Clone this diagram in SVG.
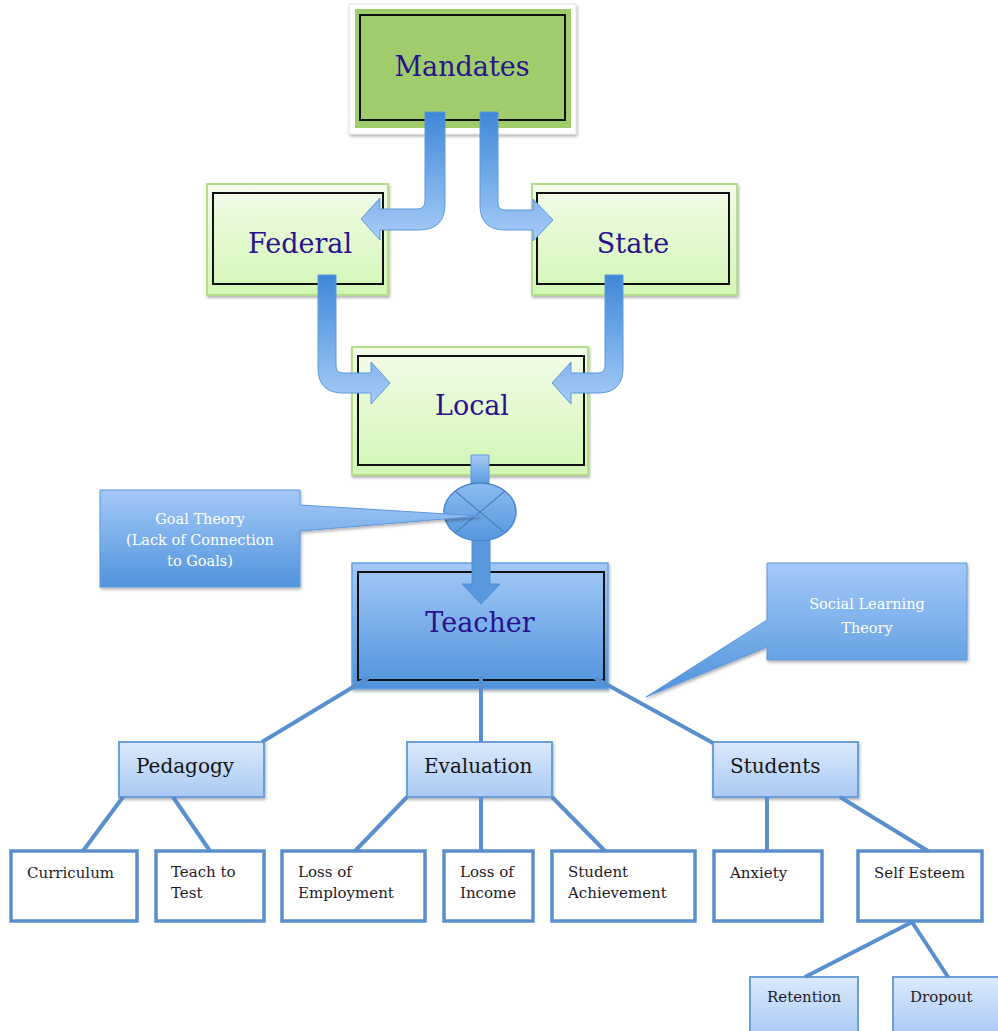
<svg xmlns="http://www.w3.org/2000/svg" width="998" height="1031" viewBox="0 0 998 1031">
<defs>
<linearGradient id="gGreen" x1="0" y1="0" x2="0" y2="1"><stop offset="0" stop-color="#f3fcea"/><stop offset="1" stop-color="#d2f6b4"/></linearGradient>
<linearGradient id="gBlue" x1="0" y1="0" x2="0" y2="1"><stop offset="0" stop-color="#a4c9f8"/><stop offset="1" stop-color="#4f93dc"/></linearGradient>
<linearGradient id="gLight" x1="0" y1="0" x2="0" y2="1"><stop offset="0" stop-color="#dbe9fc"/><stop offset="1" stop-color="#a9c9f4"/></linearGradient>
<linearGradient id="gArrow" x1="0" y1="0" x2="0" y2="1"><stop offset="0" stop-color="#3f88d8"/><stop offset="1" stop-color="#a7ccf8"/></linearGradient>
<linearGradient id="gArrowUp" x1="0" y1="0" x2="0" y2="1"><stop offset="0" stop-color="#a7ccf8"/><stop offset="1" stop-color="#4a8fdb"/></linearGradient>
<linearGradient id="gCircle" x1="0" y1="0" x2="0" y2="1"><stop offset="0" stop-color="#8dbcf0"/><stop offset="1" stop-color="#5597df"/></linearGradient>
<filter id="sh" x="-10%" y="-10%" width="120%" height="130%"><feDropShadow dx="1" dy="2" stdDeviation="1.5" flood-color="#000" flood-opacity="0.3"/></filter>
</defs>
<style>
.big{font-family:"DejaVu Serif","Liberation Serif",serif;font-size:27px;fill:#2a128e;text-anchor:middle}
.mid{font-family:"DejaVu Serif","Liberation Serif",serif;font-size:20px;fill:#151515}
.leaf{font-family:"DejaVu Serif","Liberation Serif",serif;font-size:15px;fill:#1e1a28}
.call{font-family:"DejaVu Serif","Liberation Serif",serif;font-size:14.5px;fill:#ffffff;text-anchor:middle}
.inner{fill:none;stroke:#111;stroke-width:2}
.gbox{fill:url(#gGreen);stroke:#b3df8c;stroke-width:2}
.lbox{fill:url(#gLight);stroke:#6c9fda;stroke-width:2}
.wbox{fill:#fff;stroke:#5b8fcb;stroke-width:3.5}
.ln{stroke:#5a8fcf;stroke-width:4;fill:none}
.arr{fill:url(#gArrow);stroke:#5c98dc;stroke-width:1}
</style>

<g id="mandates">
<rect x="349" y="4" width="227" height="130" fill="#fff" stroke="#e2e2e2" stroke-width="1" filter="url(#sh)"/>
<rect x="355" y="9" width="216" height="119" fill="#a1cc6b"/>
<rect x="360" y="15" width="205" height="105" class="inner"/>
<text x="462" y="76" class="big">Mandates</text>
</g>
<g id="federal">
<rect x="207" y="184" width="181" height="111" class="gbox" filter="url(#sh)"/>
<rect x="213" y="193" width="170" height="91" class="inner"/>
<text x="300" y="253" class="big">Federal</text>
</g>
<g id="state">
<rect x="532" y="184" width="205" height="111" class="gbox" filter="url(#sh)"/>
<rect x="537" y="193" width="192" height="91" class="inner"/>
<text x="633" y="253" class="big">State</text>
</g>
<g id="local">
<rect x="352" y="347" width="236" height="128" class="gbox" filter="url(#sh)"/>
<rect x="358" y="356" width="226" height="109" class="inner"/>
<text x="472" y="415" class="big">Local</text>
</g>
<g id="teacher">
<rect x="352" y="563" width="256" height="126" fill="url(#gBlue)" stroke="#6aa2e0" stroke-width="1.5" filter="url(#sh)"/>
<rect x="358" y="572" width="246" height="108" class="inner"/>
<text x="480" y="632" class="big">Teacher</text>
</g>
<g id="pedagogy">
<rect x="119" y="742" width="145" height="55" class="lbox" filter="url(#sh)"/>
<text x="136" y="773" class="mid">Pedagogy</text>
</g>
<g id="evaluation">
<rect x="407" y="742" width="145" height="55" class="lbox" filter="url(#sh)"/>
<text x="424" y="773" class="mid">Evaluation</text>
</g>
<g id="students">
<rect x="713" y="742" width="145" height="55" class="lbox" filter="url(#sh)"/>
<text x="730" y="773" class="mid">Students</text>
</g>
<g id="curriculum">
<rect x="11" y="851" width="126" height="70" class="wbox"/>
<text x="27" y="878" class="leaf">Curriculum</text>
</g>
<g id="teach-to-test">
<rect x="156" y="851" width="108" height="70" class="wbox"/>
<text x="171" y="877" class="leaf">Teach to</text>
<text x="171" y="898" class="leaf">Test</text>
</g>
<g id="loss-of-employment">
<rect x="282" y="851" width="143" height="70" class="wbox"/>
<text x="298" y="877" class="leaf">Loss of</text>
<text x="298" y="898" class="leaf">Employment</text>
</g>
<g id="loss-of-income">
<rect x="444" y="851" width="89" height="70" class="wbox"/>
<text x="460" y="877" class="leaf">Loss of</text>
<text x="460" y="898" class="leaf">Income</text>
</g>
<g id="student-achievement">
<rect x="552" y="851" width="143" height="70" class="wbox"/>
<text x="568" y="877" class="leaf">Student</text>
<text x="568" y="898" class="leaf">Achievement</text>
</g>
<g id="anxiety">
<rect x="714" y="851" width="108" height="70" class="wbox"/>
<text x="730" y="878" class="leaf">Anxiety</text>
</g>
<g id="self-esteem">
<rect x="858" y="851" width="124" height="70" class="wbox"/>
<text x="874" y="878" class="leaf">Self Esteem</text>
</g>
<g id="retention">
<rect x="750" y="977" width="108" height="60" class="lbox"/>
<text x="767" y="1002" class="leaf">Retention</text>
</g>
<g id="dropout">
<rect x="893" y="977" width="108" height="60" class="lbox"/>
<text x="910" y="1002" class="leaf">Dropout</text>
</g>

<g id="connectors">
<path class="arr" d="M425,112 L445,112 L445,204 Q445,230 419,230 L380,230 L380,240 L361,219 L380,198 L380,209 L417,209 Q425,209 425,201 Z"/>
<path class="arr" d="M480,112 L498,112 L498,203 Q498,210 505,210 L533,210 L533,199 L553,220 L533,241 L533,230 L505,230 Q480,230 480,205 Z"/>
<path class="arr" d="M318,275 L336,275 L336,366 Q336,373 343,373 L371,373 L371,362 L390,383 L371,404 L371,393 L343,393 Q318,393 318,368 Z"/>
<path class="arr" d="M605,275 L623,275 L623,368 Q623,393 598,393 L571,393 L571,404 L552,383 L571,362 L571,373 L598,373 Q605,373 605,366 Z"/>
<path fill="url(#gArrowUp)" stroke="#5c98dc" stroke-width="1" d="M471,455 L489,455 L489,490 L471,490 Z"/>
<path fill="#5a98de" stroke="#4f8ed6" stroke-width="1" d="M472,535 L490,535 L490,584 L500,584 L481,604 L462,584 L472,584 Z"/>
<ellipse cx="480" cy="512" rx="36" ry="29" fill="url(#gCircle)" stroke="#4a86cc" stroke-width="1.5"/>
<path d="M455,491 L505,533 M505,491 L455,533" stroke="#4a80c0" stroke-width="1.2" fill="none"/>
<path class="ln" d="M368,678 L262,742"/>
<path class="ln" d="M481,676 L481,742"/>
<path class="ln" d="M595,678 L713,743"/>
<path class="ln" d="M123,797 L83,851"/>
<path class="ln" d="M173,797 L210,851"/>
<path class="ln" d="M407,797 L355,851"/>
<path class="ln" d="M481,797 L481,851"/>
<path class="ln" d="M552,797 L605,851"/>
<path class="ln" d="M767,797 L767,851"/>
<path class="ln" d="M840,797 L928,851"/>
<path class="ln" d="M912,922 L805,977"/>
<path class="ln" d="M912,922 L948,977"/>
</g>

<g id="goal-theory">
<path d="M100,490 L300,490 L300,505 L480,516 L300,531 L300,587 L100,587 Z" fill="url(#gBlue)" stroke="#5f98da" stroke-width="1" filter="url(#sh)"/>
<text x="200" y="524" class="call">Goal Theory</text>
<text x="200" y="545" class="call">(Lack of Connection</text>
<text x="200" y="566" class="call">to Goals)</text>
</g>
<g id="social-learning-theory">
<path d="M767,563 L967,563 L967,660 L767,660 L767,647 L646,697 L767,620 Z" fill="url(#gBlue)" stroke="#5f98da" stroke-width="1" filter="url(#sh)"/>
<text x="867" y="609" class="call">Social Learning</text>
<text x="867" y="633" class="call">Theory</text>
</g>
</svg>
